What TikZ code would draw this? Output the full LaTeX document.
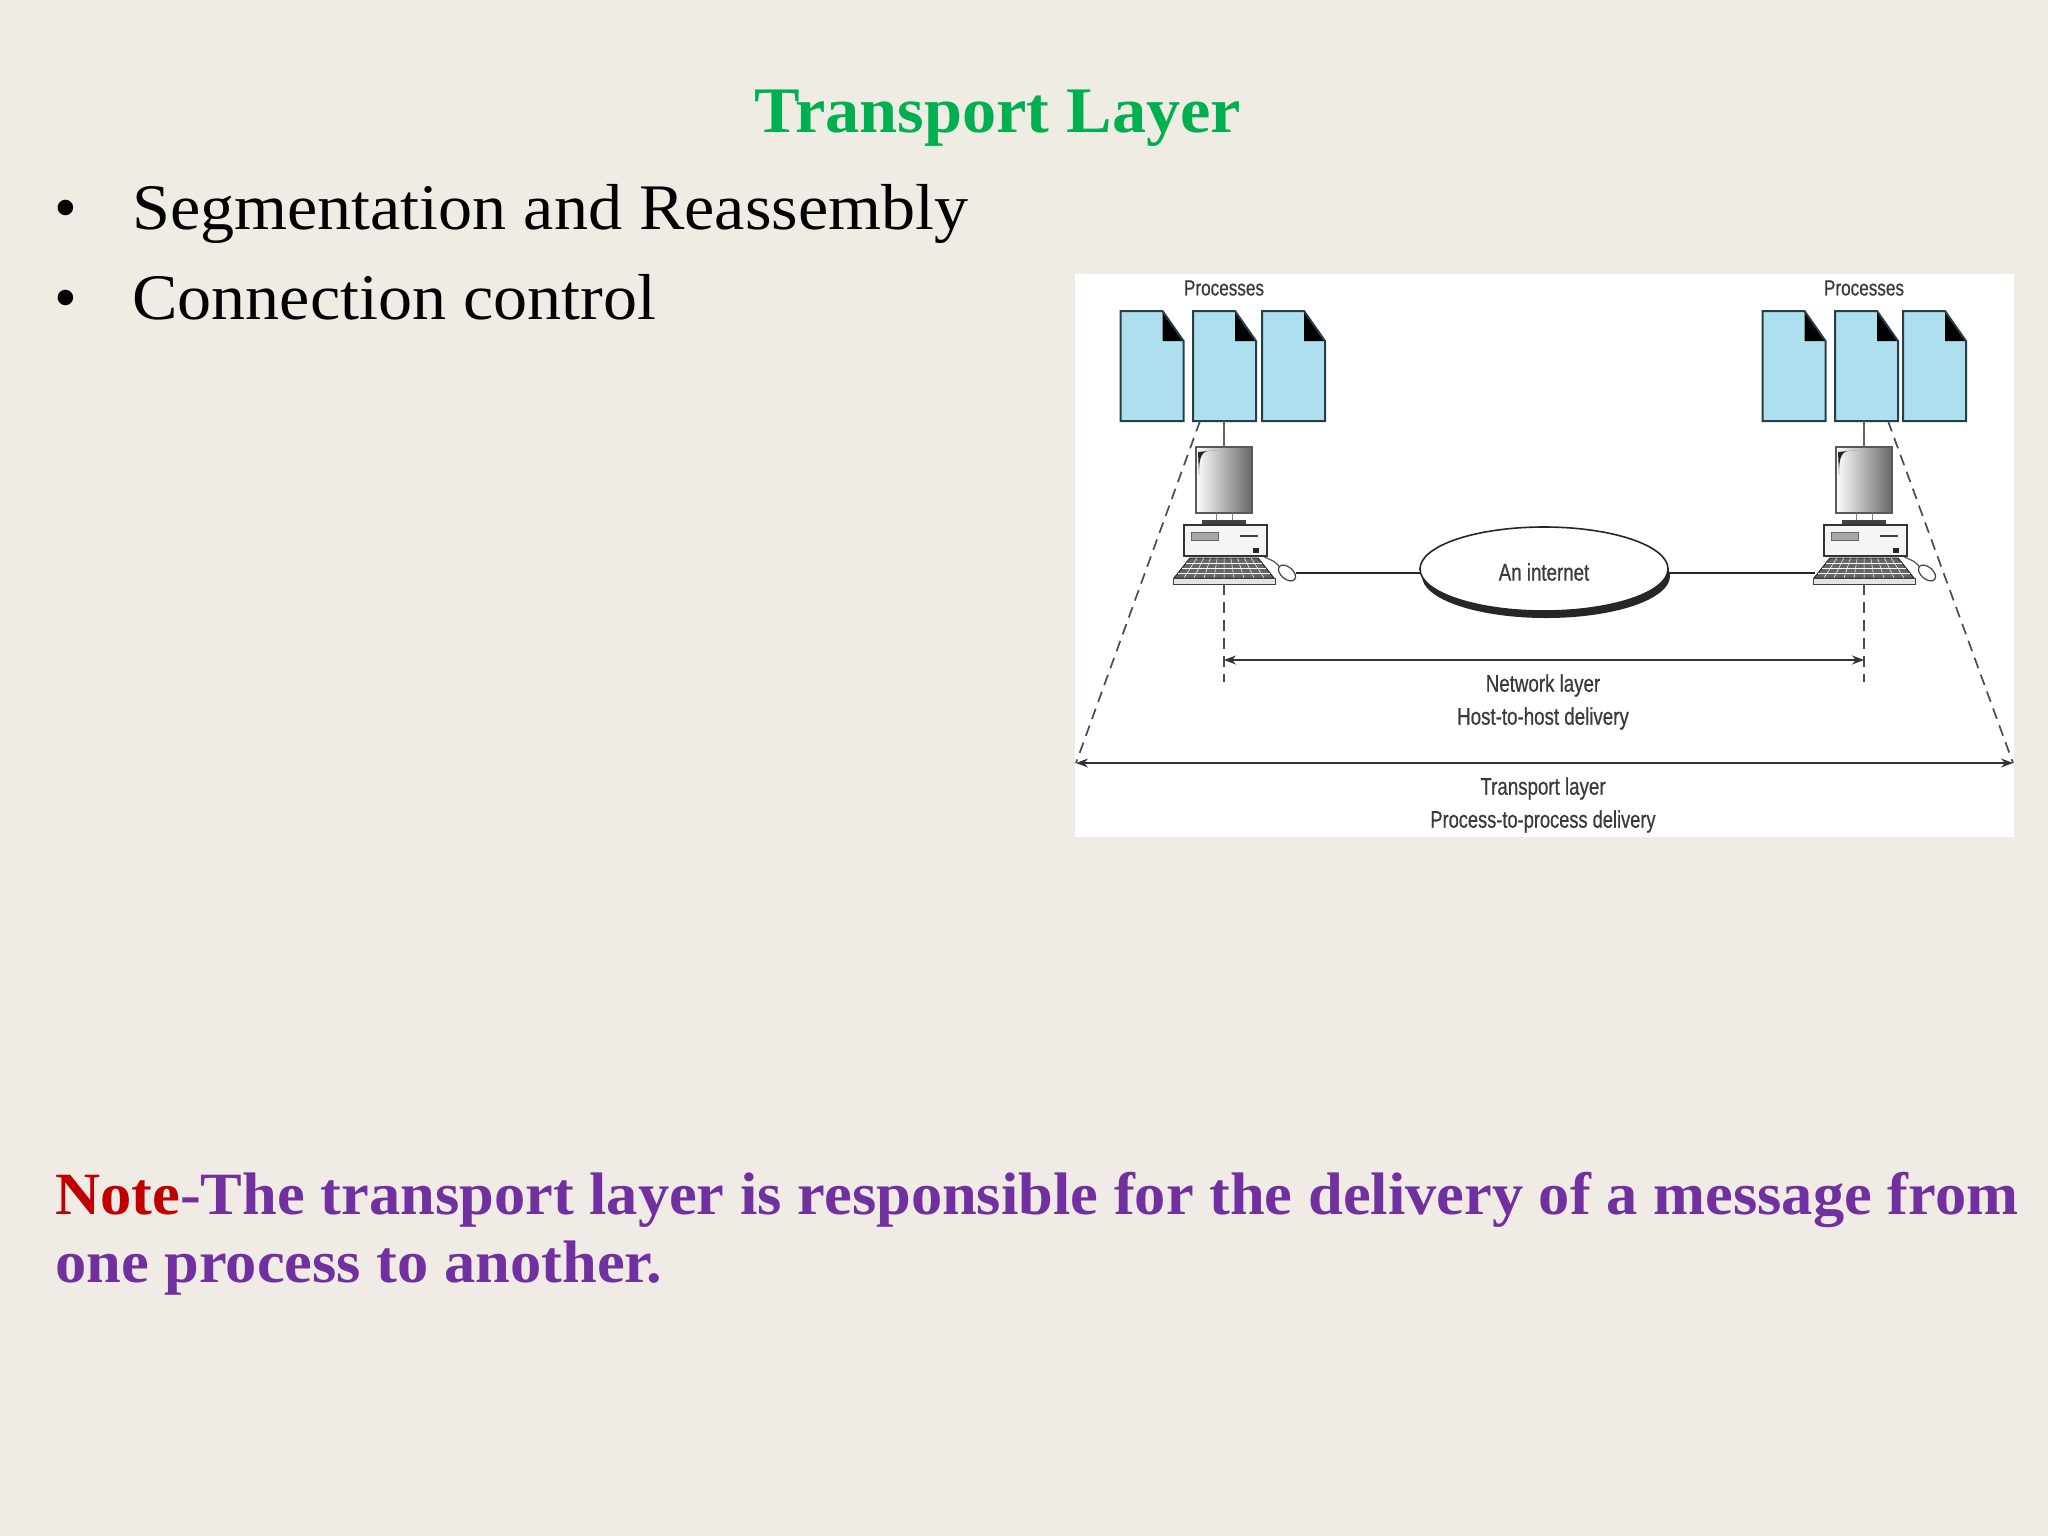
\documentclass[tikz,border=0pt]{standalone}
\usepackage{fontspec}
\setmainfont{Liberation Serif}
\newfontfamily\figfont[FakeStretch=0.78,FakeBold=0.6]{Liberation Sans}
\newfontfamily\titlefont[FakeStretch=1.051]{Liberation Serif}
\newfontfamily\bulletfont[FakeStretch=1.048]{Liberation Serif}
\newfontfamily\notefont[FakeStretch=1.041]{Liberation Serif}
\usetikzlibrary{arrows.meta,calc,shapes.geometric}
\definecolor{bgtop}{HTML}{EFECE3}
\definecolor{bgbot}{HTML}{F0EBE4}
\definecolor{docblue}{HTML}{AEDFEE}
\definecolor{docedge}{HTML}{253F4A}
\definecolor{titlegreen}{HTML}{00B050}
\definecolor{notered}{HTML}{C00000}
\definecolor{notepurple}{HTML}{7030A0}
\definecolor{figtext}{HTML}{3A3A3A}
\newcommand{\docat}[2]{%
  \node[docbox] (#1) at (#2,366) {};
  \fill[docblue] (#1.north west) -- ($(#1.north east)+(-21,0)$) -- ($(#1.north east)+(0,30)$) -- (#1.south east) -- (#1.south west) -- cycle;
  \fill[black] ($(#1.north east)+(-21,0)$) -- ($(#1.north east)+(0,30)$) -- ($(#1.north east)+(-21,30)$) -- cycle;
  \draw[docedge,line width=2] (#1.north west) -- ($(#1.north east)+(-21,0)$) -- ($(#1.north east)+(0,30)$) -- (#1.south east) -- (#1.south west) -- cycle;
}
\newcommand{\computer}[2]{%
  \node[monitorbox] (#1mon) at (#2,480) {};
  \fill[black!85] (#2-16,451) .. controls (#2-24,452) and (#2-25,462) .. (#2-25,475) -- (#2-26,452) -- (#2-6,450) -- cycle;
  \fill[black!75] (#2-22,520) rectangle (#2+22,526);
  \draw[black!50,line width=1] (#2-8,513) -- (#2-8,520) (#2+8,513) -- (#2+8,520);
  \node[casebox] (#1case) at (#2+1.5,540.5) {};
  \fill[gray!70] (#2-33,532) rectangle (#2-6,540);
  \draw[black!60,line width=0.8] (#2-33,532) rectangle (#2-6,540);
  \draw[black!75,line width=2] (#2+16,536) -- (#2+34,536);
  \fill[black!85] (#2+29,548) rectangle (#2+35,553);
  \fill[black!60,draw=black!85,line width=1] (#2-34,558) -- (#2+34,558) -- (#2+50,578) -- (#2-50,578) -- cycle;
  \foreach \t in {0.25,0.5,0.75} \draw[white,line width=0.5] ($(#2-34,558)!\t!(#2-50,578)$) -- ($(#2+34,558)!\t!(#2+50,578)$);
  \foreach \t in {0.1,0.2,...,0.91} \draw[white,line width=0.5] ($(#2-34,558)!\t!(#2+34,558)$) -- ($(#2-50,578)!\t!(#2+50,578)$);
  \node[kbbase] (#1kb) at (#2,581) {};
  \coordinate (#1port) at (#2-49,573);
  \node[mousebox,rotate=-40] (#1mouse) at (#2+63,573) {};
  \draw[black!65,line width=1.2] (#2+40,557) .. controls (#2+48,560) and (#2+52,562) .. (#1mouse.west);
}
\tikzset{
  docbox/.style={rectangle,minimum width=63,minimum height=110,inner sep=0,outer sep=0},
  monitorbox/.style={rectangle,minimum width=56,minimum height=66,inner sep=0,outer sep=0,draw=black!65,line width=2.4,left color=white,right color=black!60},
  casebox/.style={rectangle,minimum width=83,minimum height=31,inner sep=0,outer sep=0,draw=black!80,line width=1.4,fill=black!4},
  kbbase/.style={rectangle,minimum width=102,minimum height=6,inner sep=0,outer sep=0,draw=black!75,line width=1,fill=black!10},
  mousebox/.style={ellipse,minimum width=20,minimum height=12,inner sep=0,outer sep=0,draw=black!75,line width=1.2,fill=white},
  cloud/.style={ellipse,minimum width=248,minimum height=84,inner sep=0,outer sep=0,draw=black!85,line width=1.6,fill=white},
  figlabel/.style={font=\figfont\fontsize{24}{33}\selectfont,text=figtext,align=center,inner sep=0},
  wire/.style={draw=black!85,line width=2.6},
  feed/.style={draw=black!60,line width=2.2},
  guide/.style={draw=black!70,line width=1.7,dash pattern=on 11 off 7},
  span/.style={draw=black!80,line width=1.5,{Stealth[length=12,width=9]}-{Stealth[length=12,width=9]}},
  slidetext/.style={inner sep=0,anchor=base west},
}
\begin{document}
\begin{tikzpicture}[x=1pt,y=-1pt]
\useasboundingbox (0,0) rectangle (2048,1536);
\shade[top color=bgtop,bottom color=bgbot] (0,0) rectangle (2048,1536);
\node[inner sep=0,text=titlegreen,font=\titlefont\fontsize{65}{70}\selectfont\bfseries,anchor=base] (title) at (998,133) {Transport Layer};
\node[slidetext,font=\bulletfont\fontsize{65}{70}\selectfont] (b1) at (132,229) {Segmentation and Reassembly};
\node[slidetext,font=\bulletfont\fontsize{65}{70}\selectfont] (b2) at (132,319) {Connection control};
\node[slidetext,font=\fontsize{65}{70}\selectfont] (d1) at (54,229) {•};
\node[slidetext,font=\fontsize{65}{70}\selectfont] (d2) at (54,319) {•};
\node[slidetext,font=\notefont\fontsize{60}{68}\selectfont\bfseries,text=notepurple] (n1) at (55,1214) {\textcolor{notered}{Note}-The transport layer is responsible for the delivery of a message from};
\node[slidetext,font=\notefont\fontsize{60}{68}\selectfont\bfseries,text=notepurple] (n2) at (55,1282) {one process to another.};
% figure panel
\node[rectangle,fill=white,minimum width=939,minimum height=563,inner sep=0,anchor=north west] (panel) at (1075,274) {};
\node[figlabel,font=\figfont\fontsize{22}{30}\selectfont] (pl) at (1224,288) {Processes};
\node[figlabel,font=\figfont\fontsize{22}{30}\selectfont] (pr) at (1864,288) {Processes};
\docat{la}{1152}
\docat{lb}{1224.5}
\docat{lc}{1293.5}
\docat{ra}{1794}
\docat{rb}{1866.5}
\docat{rc}{1934.5}
\computer{l}{1224}
\computer{r}{1864}
\draw[feed] (lb.south -| lmon.north) -- (lmon.north);
\draw[feed] (rb.south -| rmon.north) -- (rmon.north);
\fill[black!85] (1546,576) ellipse [x radius=124,y radius=42];
\node[cloud] (net) at (1544,569) {};
\node[figlabel] at (1544,572) {An internet};
\draw[wire] ($(lmouse.center)+(9,0)$) -- (net.west |- lmouse);
\draw[wire] (net.east |- rport) -- (rport);
\coordinate (nl) at (1224,660);
\coordinate (nr) at (1864,660);
\coordinate (tl) at (1076,763);
\coordinate (tr) at (2013,763);
\draw[guide] (lkb.south) -- (1224,682);
\draw[guide] (rkb.south) -- (1864,682);
\draw[guide] (1200,421) -- (tl);
\draw[guide] (1888,421) -- (tr);
\draw[span] (nl) -- (nr);
\draw[span] (tl) -- (tr);
\node[figlabel] (nlab) at (1543,702) {Network layer\\Host-to-host delivery};
\node[figlabel] (tlab) at (1543,805) {Transport layer\\\scalebox{0.975}[1]{Process-to-process delivery}};
\end{tikzpicture}
\end{document}
